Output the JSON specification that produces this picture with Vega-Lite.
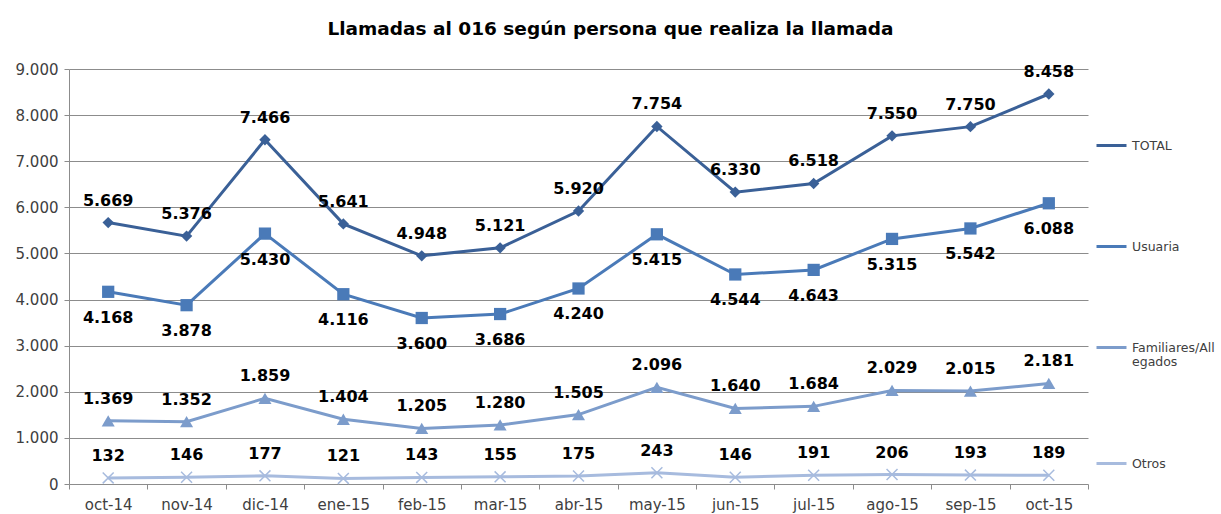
{
  "$schema": "https://vega.github.io/schema/vega-lite/v6.json",
  "width": 1019,
  "height": 415,
  "autosize": "none",
  "padding": {"left": 69, "top": 69, "right": 133, "bottom": 30},
  "title": {
    "text": "Llamadas al 016 según persona que realiza la llamada",
    "font": "DejaVu Sans",
    "fontSize": 18.5,
    "fontWeight": "bold",
    "color": "#000000",
    "anchor": "middle",
    "frame": "group",
    "dx": 32,
    "offset": 24
  },
  "config": {
    "view": {"stroke": null},
    "locale": {"number": {"decimal": ",", "thousands": ".", "grouping": [3], "currency": ["", " €"]}}
  },
  "data": {
    "values": [
      {"mes": "oct-14", "serie": "TOTAL", "valor": 5669},
      {"mes": "nov-14", "serie": "TOTAL", "valor": 5376},
      {"mes": "dic-14", "serie": "TOTAL", "valor": 7466},
      {"mes": "ene-15", "serie": "TOTAL", "valor": 5641},
      {"mes": "feb-15", "serie": "TOTAL", "valor": 4948},
      {"mes": "mar-15", "serie": "TOTAL", "valor": 5121},
      {"mes": "abr-15", "serie": "TOTAL", "valor": 5920},
      {"mes": "may-15", "serie": "TOTAL", "valor": 7754},
      {"mes": "jun-15", "serie": "TOTAL", "valor": 6330},
      {"mes": "jul-15", "serie": "TOTAL", "valor": 6518},
      {"mes": "ago-15", "serie": "TOTAL", "valor": 7550},
      {"mes": "sep-15", "serie": "TOTAL", "valor": 7750},
      {"mes": "oct-15", "serie": "TOTAL", "valor": 8458},
      {"mes": "oct-14", "serie": "Usuaria", "valor": 4168},
      {"mes": "nov-14", "serie": "Usuaria", "valor": 3878},
      {"mes": "dic-14", "serie": "Usuaria", "valor": 5430},
      {"mes": "ene-15", "serie": "Usuaria", "valor": 4116},
      {"mes": "feb-15", "serie": "Usuaria", "valor": 3600},
      {"mes": "mar-15", "serie": "Usuaria", "valor": 3686},
      {"mes": "abr-15", "serie": "Usuaria", "valor": 4240},
      {"mes": "may-15", "serie": "Usuaria", "valor": 5415},
      {"mes": "jun-15", "serie": "Usuaria", "valor": 4544},
      {"mes": "jul-15", "serie": "Usuaria", "valor": 4643},
      {"mes": "ago-15", "serie": "Usuaria", "valor": 5315},
      {"mes": "sep-15", "serie": "Usuaria", "valor": 5542},
      {"mes": "oct-15", "serie": "Usuaria", "valor": 6088},
      {"mes": "oct-14", "serie": "Familiares/Allegados", "valor": 1369},
      {"mes": "nov-14", "serie": "Familiares/Allegados", "valor": 1352},
      {"mes": "dic-14", "serie": "Familiares/Allegados", "valor": 1859},
      {"mes": "ene-15", "serie": "Familiares/Allegados", "valor": 1404},
      {"mes": "feb-15", "serie": "Familiares/Allegados", "valor": 1205},
      {"mes": "mar-15", "serie": "Familiares/Allegados", "valor": 1280},
      {"mes": "abr-15", "serie": "Familiares/Allegados", "valor": 1505},
      {"mes": "may-15", "serie": "Familiares/Allegados", "valor": 2096},
      {"mes": "jun-15", "serie": "Familiares/Allegados", "valor": 1640},
      {"mes": "jul-15", "serie": "Familiares/Allegados", "valor": 1684},
      {"mes": "ago-15", "serie": "Familiares/Allegados", "valor": 2029},
      {"mes": "sep-15", "serie": "Familiares/Allegados", "valor": 2015},
      {"mes": "oct-15", "serie": "Familiares/Allegados", "valor": 2181},
      {"mes": "oct-14", "serie": "Otros", "valor": 132},
      {"mes": "nov-14", "serie": "Otros", "valor": 146},
      {"mes": "dic-14", "serie": "Otros", "valor": 177},
      {"mes": "ene-15", "serie": "Otros", "valor": 121},
      {"mes": "feb-15", "serie": "Otros", "valor": 143},
      {"mes": "mar-15", "serie": "Otros", "valor": 155},
      {"mes": "abr-15", "serie": "Otros", "valor": 175},
      {"mes": "may-15", "serie": "Otros", "valor": 243},
      {"mes": "jun-15", "serie": "Otros", "valor": 146},
      {"mes": "jul-15", "serie": "Otros", "valor": 191},
      {"mes": "ago-15", "serie": "Otros", "valor": 206},
      {"mes": "sep-15", "serie": "Otros", "valor": 193},
      {"mes": "oct-15", "serie": "Otros", "valor": 189}
    ]
  },
  "encoding": {
    "x": {
      "field": "mes",
      "type": "nominal",
      "sort": null,
      "scale": {"type": "band", "paddingInner": 0, "paddingOuter": 0},
      "axis": {
        "title": null,
        "labelAngle": 0,
        "domain": false,
        "tickBand": "extent",
        "ticks": true,
        "tickSize": 5,
        "tickColor": "#8c8c8c",
        "labelFont": "DejaVu Sans",
        "labelFontSize": 15,
        "labelColor": "#404040",
        "labelPadding": 8,
        "grid": false
      }
    },
    "y": {
      "field": "valor",
      "type": "quantitative",
      "scale": {"domain": [0, 9000], "nice": false},
      "axis": {
        "title": null,
        "values": [0, 1000, 2000, 3000, 4000, 5000, 6000, 7000, 8000, 9000],
        "format": ",d",
        "labelFont": "DejaVu Sans",
        "labelFontSize": 15,
        "labelColor": "#404040",
        "labelPadding": 6,
        "domainColor": "#8c8c8c",
        "tickColor": "#8c8c8c",
        "tickSize": 5,
        "gridColor": "#8c8c8c",
        "gridWidth": 1
      }
    },
    "color": {
      "field": "serie",
      "type": "nominal",
      "scale": {
        "domain": ["TOTAL", "Usuaria", "Familiares/Allegados", "Otros"],
        "range": ["#3A6097", "#4A7AB8", "#7C9CCB", "#A7BBDE"]
      },
      "legend": {
        "title": null,
        "orient": "none",
        "legendX": 1026,
        "legendY": 60,
        "symbolType": "stroke",
        "symbolSize": 900,
        "symbolStrokeWidth": 3,
        "labelFont": "DejaVu Sans",
        "labelFontSize": 12.5,
        "labelColor": "#404040",
        "labelOffset": 4,
        "rowPadding": 78,
        "labelExpr": "datum.label == 'Familiares/Allegados' ? ['Familiares/All', 'egados'] : datum.label"
      }
    }
  },
  "layer": [
    {
      "mark": {"type": "line", "strokeWidth": 3}
    },
    {
      "transform": [{"filter": "datum.serie != 'Otros'"}],
      "mark": {"type": "point", "filled": true, "opacity": 1},
      "encoding": {
        "shape": {
          "field": "serie",
          "type": "nominal",
          "scale": {
            "domain": ["TOTAL", "Usuaria", "Familiares/Allegados"],
            "range": ["diamond", "square", "triangle-up"]
          },
          "legend": null
        },
        "size": {
          "field": "serie",
          "type": "nominal",
          "scale": {
            "domain": ["TOTAL", "Usuaria", "Familiares/Allegados"],
            "range": [130, 170, 170]
          },
          "legend": null
        }
      }
    },
    {
      "transform": [{"filter": "datum.serie == 'Otros'"}],
      "mark": {"type": "point", "filled": false, "shape": "M-1,-1L1,1M-1,1L1,-1", "size": 120, "strokeWidth": 1.5, "opacity": 1}
    },
    {
      "transform": [{"filter": "datum.serie != 'Usuaria'"}],
      "mark": {"type": "text", "dy": -22, "font": "DejaVu Sans", "fontSize": 16, "fontWeight": "bold"},
      "encoding": {
        "text": {"field": "valor", "type": "quantitative", "format": ",d"},
        "color": {"value": "#000000"}
      }
    },
    {
      "transform": [{"filter": "datum.serie == 'Usuaria'"}],
      "mark": {"type": "text", "dy": 26, "font": "DejaVu Sans", "fontSize": 16, "fontWeight": "bold"},
      "encoding": {
        "text": {"field": "valor", "type": "quantitative", "format": ",d"},
        "color": {"value": "#000000"}
      }
    }
  ]
}
